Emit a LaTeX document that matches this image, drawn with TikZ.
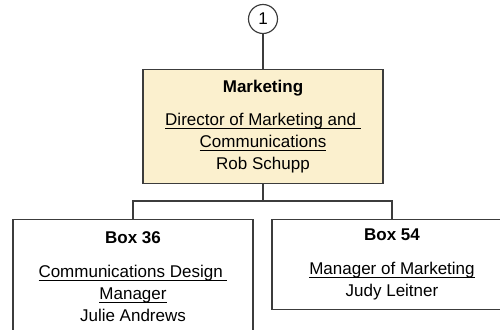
\documentclass[tikz,border=0pt]{standalone}
\usepackage{fontspec}
\setmainfont{Liberation Sans}
\definecolor{boxline}{RGB}{60,60,60}
\definecolor{headfill}{RGB}{251,240,206}
\newsavebox{\ulbox}
\newcommand{\ulin}[1]{\sbox{\ulbox}{#1}\rlap{\rule[-2pt]{\wd\ulbox}{0.6pt}}\usebox{\ulbox}}
\tikzset{
  orgbox/.style={draw=boxline, line width=0.7pt, fill=white, anchor=north,
    minimum width=144pt, inner sep=2pt, align=center,
    font=\fontsize{10.2}{13.2}\selectfont},
  link/.style={draw=boxline, line width=0.7pt},
}
\begin{document}
\begin{tikzpicture}[x={(0.6pt, 0pt)}, y={(0pt, -0.6pt)}]
  \useasboundingbox (0, 0) rectangle (500, 330);
  \clip (0, 0) rectangle (500, 330);

  \node[draw=boxline, line width=0.7pt, circle, minimum size=17.4pt, inner sep=0pt,
        font=\fontsize{10.2}{12}\selectfont] (page) at (263, 19) {1};

  \node[orgbox, fill=headfill, minimum height=68.4pt] (mkt) at (263, 69)
    {\textbf{Marketing}\\[7pt]
     \ulin{Director of Marketing and\ }\\
     \ulin{Communications}\\
     Rob Schupp};

  \node[orgbox, minimum height=68.4pt] (box36) at (133, 219)
    {\textbf{Box 36}\\[7pt]
     \ulin{Communications Design\ }\\
     \ulin{Manager}\\
     Julie Andrews};

  \node[orgbox, minimum height=54pt] (box54) at (392, 219)
    {\textbf{Box 54}\\[7pt]
     \ulin{Manager of Marketing}\\
     Judy Leitner};

  \coordinate (split) at (263, 201);
  \draw[link] (page) -- (mkt);
  \draw[link] (mkt) -- (split);
  \draw[link] (split) -| (box36.north);
  \draw[link] (split) -| (box54.north);
\end{tikzpicture}
\end{document}
